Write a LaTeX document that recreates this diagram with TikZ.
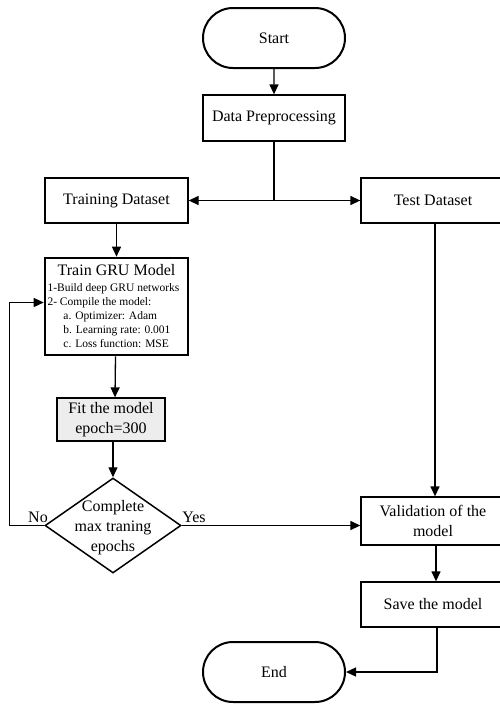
\documentclass[tikz,border=0pt]{standalone}
\usepackage{fontspec}
\setmainfont{Liberation Serif}
\usetikzlibrary{shapes.geometric,shapes.misc,arrows.meta}
\tikzset{
  base/.style={font=\fontsize{16}{20}\selectfont, align=center, inner sep=0pt},
  box/.style={base, draw, line width=1.3pt, rectangle},
  thickbox/.style={draw, line width=2.6pt, rectangle, inner sep=0pt},
  term/.style={base, draw, line width=2pt, rounded rectangle, minimum width=142pt, minimum height=60pt},
  dec/.style={draw, line width=1.5pt, diamond, inner sep=0pt, minimum width=136pt, minimum height=95pt},
  conn/.style={line width=1.3pt},
  arr/.style={conn, -{Triangle[length=10pt,width=9pt]}},
  lbl/.style={font=\fontsize{16}{20}\selectfont, inner sep=0pt}
}
\begin{document}
\begin{tikzpicture}[x=1pt,y=-1pt]
\useasboundingbox (0,0) rectangle (500,705);
\clip (0,0) rectangle (500,705);
% nodes
\node[term] (start) at (274,38) {Start};
\node[box, minimum width=142pt, minimum height=46pt] (dp) at (274,118) {Data Preprocessing};
\node[box, minimum width=143pt, minimum height=45pt] (train) at (116.5,200.5) {Training Dataset};
\node[box, minimum width=144pt, minimum height=45pt] (test) at (433,200.5) {Test Dataset};
\node[thickbox, minimum width=143pt, minimum height=97pt] (gru) at (116.5,306.5) {%
  \begin{minipage}{138pt}\centering{\fontsize{16}{19}\selectfont Train GRU Model\par}
  \vspace{1pt}\raggedright\fontsize{11.5}{14.2}\selectfont
  1-Build deep GRU networks\par
  2- Compile the model:\par
  \hspace{16pt}a. Optimizer: Adam\par
  \hspace{16pt}b. Learning rate: 0.001\par
  \hspace{16pt}c. Loss function: MSE\par
  \end{minipage}};
\node[box, fill=black!7, minimum width=108pt, minimum height=43pt] (fit) at (111,419.5) {Fit the model\\epoch=300};
\node[dec] (dia) at (113,525.5) {};
\node[base] (diatext) at (113,528) {Complete\\max traning\\epochs};
\node[box, minimum width=144pt, minimum height=48pt] (val) at (433,521) {Validation of the\\model};
\node[box, minimum width=144pt, minimum height=45pt] (save) at (433,604.5) {Save the model};
\node[term] (end) at (274,672) {End};
% labels
\node[lbl] (no) at (38,517) {No};
\node[lbl] (yes) at (194,517) {Yes};
% connectors
\draw[arr] (start) -- (dp);
\draw[conn] (dp.south) -- (dp.south |- train.east) coordinate (split);
\draw[arr] (split) -- (train.east);
\draw[arr] (split) -- (test.west);
\draw[arr] (train) -- (gru);
\draw[arr] ([xshift=-1pt]gru.south) -- ([xshift=4pt]fit.north);
\draw[arr] ([xshift=2pt]fit.south) -- (dia.north);
\draw[arr] (dia.east) -- (val.west |- dia.east);
\draw[arr] (dia.west) -- ([xshift=-35pt]dia.west) |- ([yshift=4pt]gru.west);
\draw[arr] ([xshift=2pt]test.south) -- ([xshift=2pt]val.north);
\draw[arr] ([xshift=3pt]val.south) -- ([xshift=3pt]save.north);
\draw[arr] ([xshift=4pt]save.south) |- (end.east);
\end{tikzpicture}
\end{document}
